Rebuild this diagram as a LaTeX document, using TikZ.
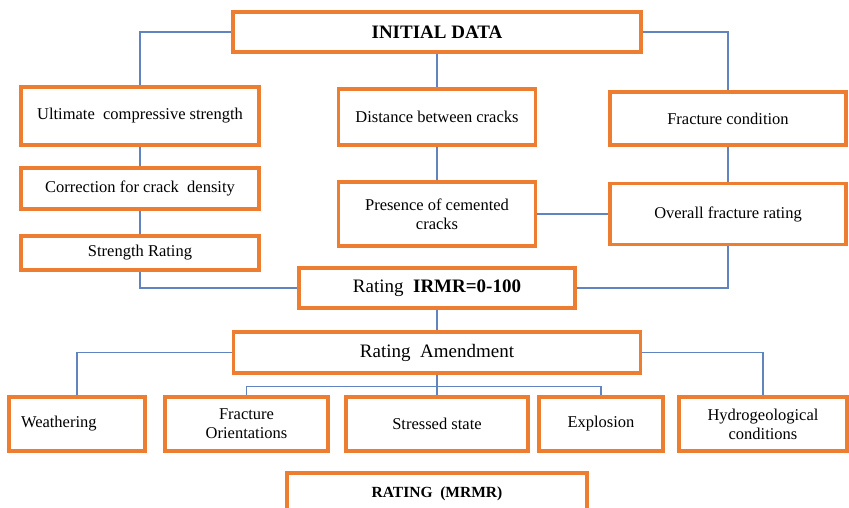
\documentclass[tikz,border=0pt]{standalone}
\usepackage{fontspec}
\setmainfont{Liberation Serif}
\usetikzlibrary{calc,positioning}

\definecolor{boxorange}{RGB}{237,125,49}
\definecolor{linkblue}{RGB}{98,132,190}

\newcommand{\txtsmall}{\fontsize{16.5}{19}\selectfont}
\newcommand{\txtbig}{\fontsize{19}{22}\selectfont}

\begin{document}
\begin{tikzpicture}[x=1pt,y=-1pt]

  \tikzstyle{block} = [draw=boxorange, fill=white, rectangle, line width=3.5pt, inner sep=2pt, align=center, font=\txtsmall]
  \tikzstyle{link} = [-, color=linkblue, line width=1.2pt]

  \useasboundingbox (0,0) rectangle (849,507);

  % top row
  \node[block, font=\txtbig\bfseries, minimum width=408, minimum height=40] (init) at (437,32) {INITIAL DATA};

  % left column
  \node[block, minimum width=238, minimum height=58] (ucs) at (140,116) {Ultimate~ compressive strength};
  \node[block, minimum width=238, minimum height=41] (corr) at (140,188.5) {Correction for crack~ density};
  \node[block, minimum width=238, minimum height=34] (str) at (140,253) {Strength Rating};

  % middle column
  \node[block, minimum width=197, minimum height=56] (dist) at (437,117) {Distance between cracks};
  \node[block, minimum width=197, minimum height=64] (pres) at (437,214) {Presence of cemented\\cracks};

  % right column
  \node[block, minimum width=236, minimum height=53] (frac) at (728,118.5) {Fracture condition};
  \node[block, minimum width=236, minimum height=61] (over) at (728,214) {Overall fracture rating};

  % rating
  \node[block, font=\txtbig, minimum width=276, minimum height=40] (irmr) at (437,288) {Rating~ \textbf{IRMR=0-100}};
  \node[block, font=\txtbig, minimum width=407, minimum height=41] (amend) at (437,352.5) {Rating~ Amendment};

  % amendment factors
  \node[block, minimum width=136, minimum height=54, text width=112, inner xsep=12pt, align=left] (weath) at (77,424) {Weathering};
  \node[block, minimum width=163, minimum height=54] (forient) at (246.5,424) {Fracture\\Orientations};
  \node[block, minimum width=182, minimum height=54] (stress) at (437,424) {Stressed state};
  \node[block, minimum width=124, minimum height=54] (expl) at (601,424) {Explosion};
  \node[block, minimum width=168, minimum height=54] (hydro) at (763,424) {Hydrogeological\\conditions};

  \node[block, font=\fontsize{15.5}{18}\selectfont\bfseries, minimum width=300, minimum height=42] (mrmr) at (437,494) {RATING~ (MRMR)};

  \coordinate (bus) at ($(amend.south)+(0,12)$);

  \draw[link] (init.west) -| (ucs.north);
  \draw[link] (init.south) -- (dist.north);
  \draw[link] (init.east) -| (frac.north);
  \draw[link] (ucs) -- (corr);
  \draw[link] (corr) -- (str);
  \draw[link] (str.south) |- (irmr.west);
  \draw[link] (dist) -- (pres);
  \draw[link] (pres) -- (over);
  \draw[link] (frac) -- (over);
  \draw[link] (over.south) |- (irmr.east);
  \draw[link] (irmr) -- (amend);
  \draw[link] (amend.west) -| (weath.north);
  \draw[link] (amend.east) -| (hydro.north);
  \draw[link] (amend.south) -- (stress.north);
  \draw[link] (forient.north) |- (bus) -| (expl.north);

\end{tikzpicture}
\end{document}
